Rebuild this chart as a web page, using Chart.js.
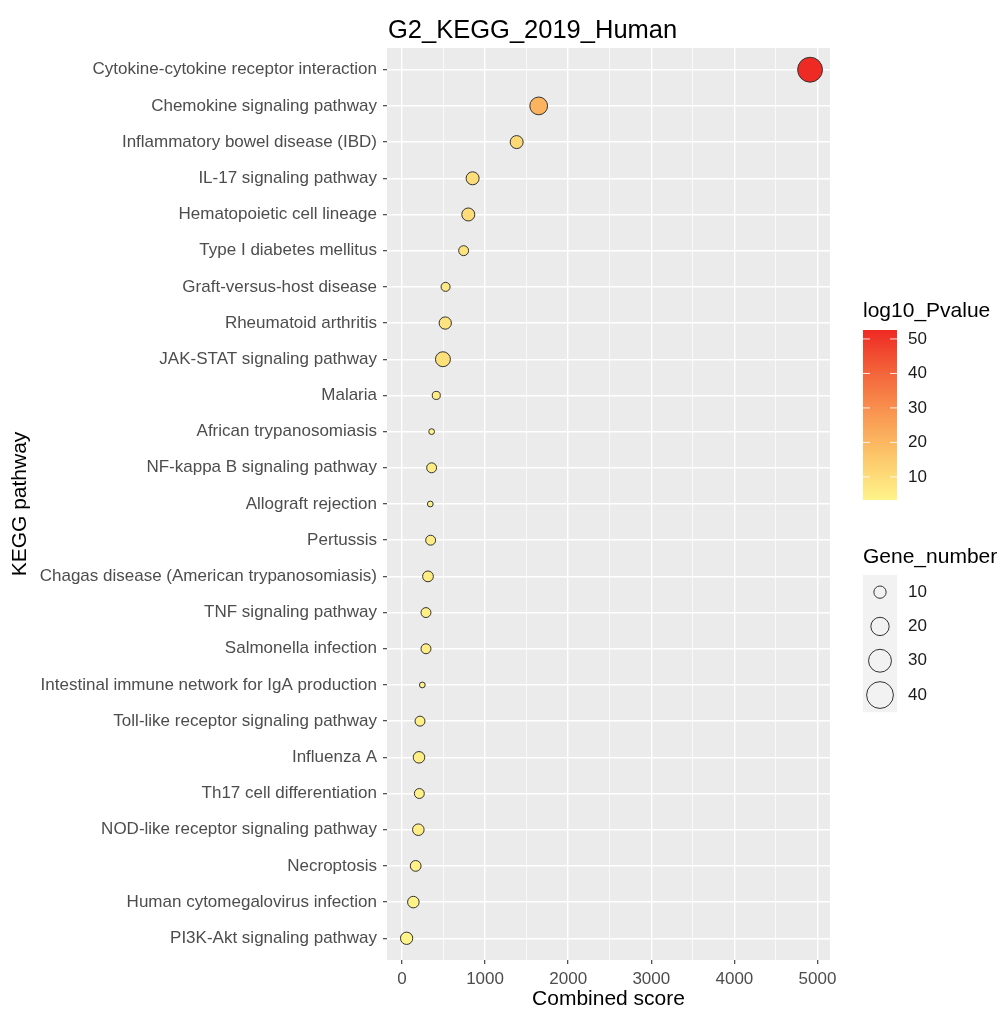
<!DOCTYPE html>
<html>
<head>
<meta charset="utf-8">
<script src="https://cdn.jsdelivr.net/npm/chart.js@4"></script>
<style>
  html, body { margin: 0; padding: 0; background: #fff; }
  #wrap { width: 1003px; height: 1012px; }
</style>
</head>
<body>
<div id="wrap"><canvas id="c" width="1003" height="1012"></canvas></div>
<script>
const pathways = [
  'Cytokine-cytokine receptor interaction', 'Chemokine signaling pathway',
  'Inflammatory bowel disease (IBD)', 'IL-17 signaling pathway',
  'Hematopoietic cell lineage', 'Type I diabetes mellitus',
  'Graft-versus-host disease', 'Rheumatoid arthritis',
  'JAK-STAT signaling pathway', 'Malaria', 'African trypanosomiasis',
  'NF-kappa B signaling pathway', 'Allograft rejection', 'Pertussis',
  'Chagas disease (American trypanosomiasis)', 'TNF signaling pathway',
  'Salmonella infection', 'Intestinal immune network for IgA production',
  'Toll-like receptor signaling pathway', 'Influenza A',
  'Th17 cell differentiation', 'NOD-like receptor signaling pathway',
  'Necroptosis', 'Human cytomegalovirus infection', 'PI3K-Akt signaling pathway'
];
const combinedScore = [4910, 1645, 1380, 850, 798, 742, 525, 521, 493, 413, 357,
  357, 341, 345, 313, 289, 289, 245, 217, 205, 209, 197, 165, 137, 56];
const geneNumber = [35, 19, 11, 11, 11, 7, 6, 10, 14, 5, 3,
  7, 3, 7, 8, 7, 7, 3, 7, 9, 7, 9, 8, 9, 10];
const log10P = [52.6, 21, 11, 10, 10, 8, 6, 8, 9, 5.5, 3.5,
  5.5, 3.3, 5.5, 5.5, 5, 5, 3.5, 4.5, 5, 4.5, 5, 4.5, 4, 3.5];

const xMajor = [0, 1000, 2000, 3000, 4000, 5000];
const xMinor = [500, 1500, 2500, 3500, 4500];
const colorBreaks = [10, 20, 30, 40, 50];
const sizeBreaks = [10, 20, 30, 40];

const FONT = '"Liberation Sans", Arial, sans-serif';
Chart.defaults.font.family = FONT;

// yellow -> red gradient, roughly like ggplot's Lab interpolation
const stops = [
  [0, [255, 244, 138]], [0.25, [252, 200, 106]], [0.5, [249, 152, 82]],
  [0.75, [243, 100, 58]], [1, [238, 42, 36]]
];
const pMin = Math.min(...log10P), pMax = Math.max(...log10P);
function colorScale(v) {
  let t = (v - pMin) / (pMax - pMin);
  t = Math.max(0, Math.min(1, t));
  for (let i = 1; i < stops.length; i++) {
    if (t <= stops[i][0]) {
      const [t0, c0] = stops[i - 1], [t1, c1] = stops[i];
      const f = (t - t0) / (t1 - t0);
      const c = c0.map((a, k) => Math.round(a + (c1[k] - a) * f));
      return `rgb(${c[0]},${c[1]},${c[2]})`;
    }
  }
  return 'rgb(238,42,36)';
}
// area-ish size mapping (radius in px)
function sizeScale(n) {
  return Math.max(1.5, -0.57 + 2.284 * Math.sqrt(n) - 0.5);
}

const ggDecor = {
  id: 'ggDecor',
  beforeDraw(chart) {
    const { ctx, chartArea: a } = chart;
    ctx.save();
    ctx.fillStyle = '#EBEBEB';
    ctx.fillRect(a.left, a.top, a.right - a.left, a.bottom - a.top);
    ctx.restore();
  },
  afterDraw(chart) {
    const { ctx, chartArea: a } = chart;
    ctx.save();
    // plot title
    ctx.fillStyle = '#000';
    ctx.font = '25.5px ' + FONT;
    ctx.textAlign = 'left';
    ctx.textBaseline = 'alphabetic';
    ctx.fillText('G2_KEGG_2019_Human', a.left + 1, 38);

    // colour bar legend
    const bx = 863, bw = 34, bTop = 330, bBot = 500;
    ctx.font = '21px ' + FONT;
    ctx.fillText('log10_Pvalue', bx, 317);
    for (let y = bTop; y < bBot; y++) {
      const v = pMin + (bBot - y - 0.5) / (bBot - bTop) * (pMax - pMin);
      ctx.fillStyle = colorScale(v);
      ctx.fillRect(bx, y, bw, 1);
    }
    ctx.font = '17px ' + FONT;
    ctx.textBaseline = 'middle';
    colorBreaks.forEach(v => {
      const y = bBot - (v - pMin) / (pMax - pMin) * (bBot - bTop);
      ctx.strokeStyle = 'rgba(255,255,255,0.85)';
      ctx.lineWidth = 1;
      ctx.beginPath();
      ctx.moveTo(bx, y); ctx.lineTo(bx + 7, y);
      ctx.moveTo(bx + bw - 7, y); ctx.lineTo(bx + bw, y);
      ctx.stroke();
      ctx.fillStyle = '#1A1A1A';
      ctx.fillText(String(v), 908, y);
    });

    // size legend
    ctx.textBaseline = 'alphabetic';
    ctx.fillStyle = '#000';
    ctx.font = '21px ' + FONT;
    ctx.fillText('Gene_number', bx, 563);
    const kTop = 575, kh = 34.3;
    ctx.fillStyle = '#F2F2F2';
    ctx.fillRect(bx, kTop, bw, kh * sizeBreaks.length);
    ctx.font = '17px ' + FONT;
    ctx.textBaseline = 'middle';
    sizeBreaks.forEach((n, i) => {
      const cy = kTop + kh * (i + 0.5);
      ctx.strokeStyle = '#333';
      ctx.lineWidth = 1;
      ctx.beginPath();
      ctx.arc(bx + bw / 2, cy, sizeScale(n), 0, Math.PI * 2);
      ctx.stroke();
      ctx.fillStyle = '#1A1A1A';
      ctx.fillText(String(n), 908, cy);
    });
    ctx.restore();
  }
};

new Chart(document.getElementById('c'), {
  type: 'bubble',
  data: {
    datasets: [{
      data: pathways.map((p, i) => ({ x: combinedScore[i], y: i, r: sizeScale(geneNumber[i]) })),
      backgroundColor: log10P.map(colorScale),
      borderColor: '#333333',
      borderWidth: 1
    }]
  },
  options: {
    responsive: false,
    animation: false,
    events: [],
    layout: { padding: { top: 48, right: 173, left: 0, bottom: 0 } },
    plugins: { legend: { display: false }, tooltip: { enabled: false } },
    scales: {
      x: {
        type: 'linear',
        min: -180, max: 5150,
        afterBuildTicks: s => { s.ticks = [...xMajor, ...xMinor].sort((a, b) => a - b).map(v => ({ value: v })); },
        afterFit: s => { s.height = 52; },
        border: { display: false },
        grid: {
          color: '#FFFFFF',
          lineWidth: c => (c.tick && c.tick.value % 1000 === 0) ? 1.4 : 0.7,
          tickColor: c => (c.tick && c.tick.value % 1000 === 0) ? '#333333' : 'rgba(0,0,0,0)',
          tickLength: 4,
          tickWidth: 1.1
        },
        ticks: {
          autoSkip: false, maxRotation: 0, padding: 5,
          color: '#4D4D4D', font: { size: 17 },
          callback: v => xMajor.includes(v) ? String(v) : ''
        },
        title: { display: true, text: 'Combined score', color: '#000', font: { size: 21 }, padding: { top: 0, bottom: 0 } }
      },
      y: {
        type: 'linear',
        reverse: true,
        min: -0.6, max: pathways.length - 0.4,
        afterBuildTicks: s => { s.ticks = pathways.map((_, i) => ({ value: i })); },
        afterFit: s => { s.width = 387; },
        border: { display: false },
        grid: { color: '#FFFFFF', lineWidth: 1.4, tickColor: '#333333', tickLength: 4, tickWidth: 1.1 },
        ticks: {
          autoSkip: false, padding: 6,
          color: '#4D4D4D', font: { size: 17 },
          callback: v => pathways[v]
        },
        title: { display: true, text: 'KEGG pathway', color: '#000', font: { size: 21 }, padding: { top: 8, bottom: 0 } }
      }
    }
  },
  plugins: [ggDecor]
});
</script>
</body>
</html>
